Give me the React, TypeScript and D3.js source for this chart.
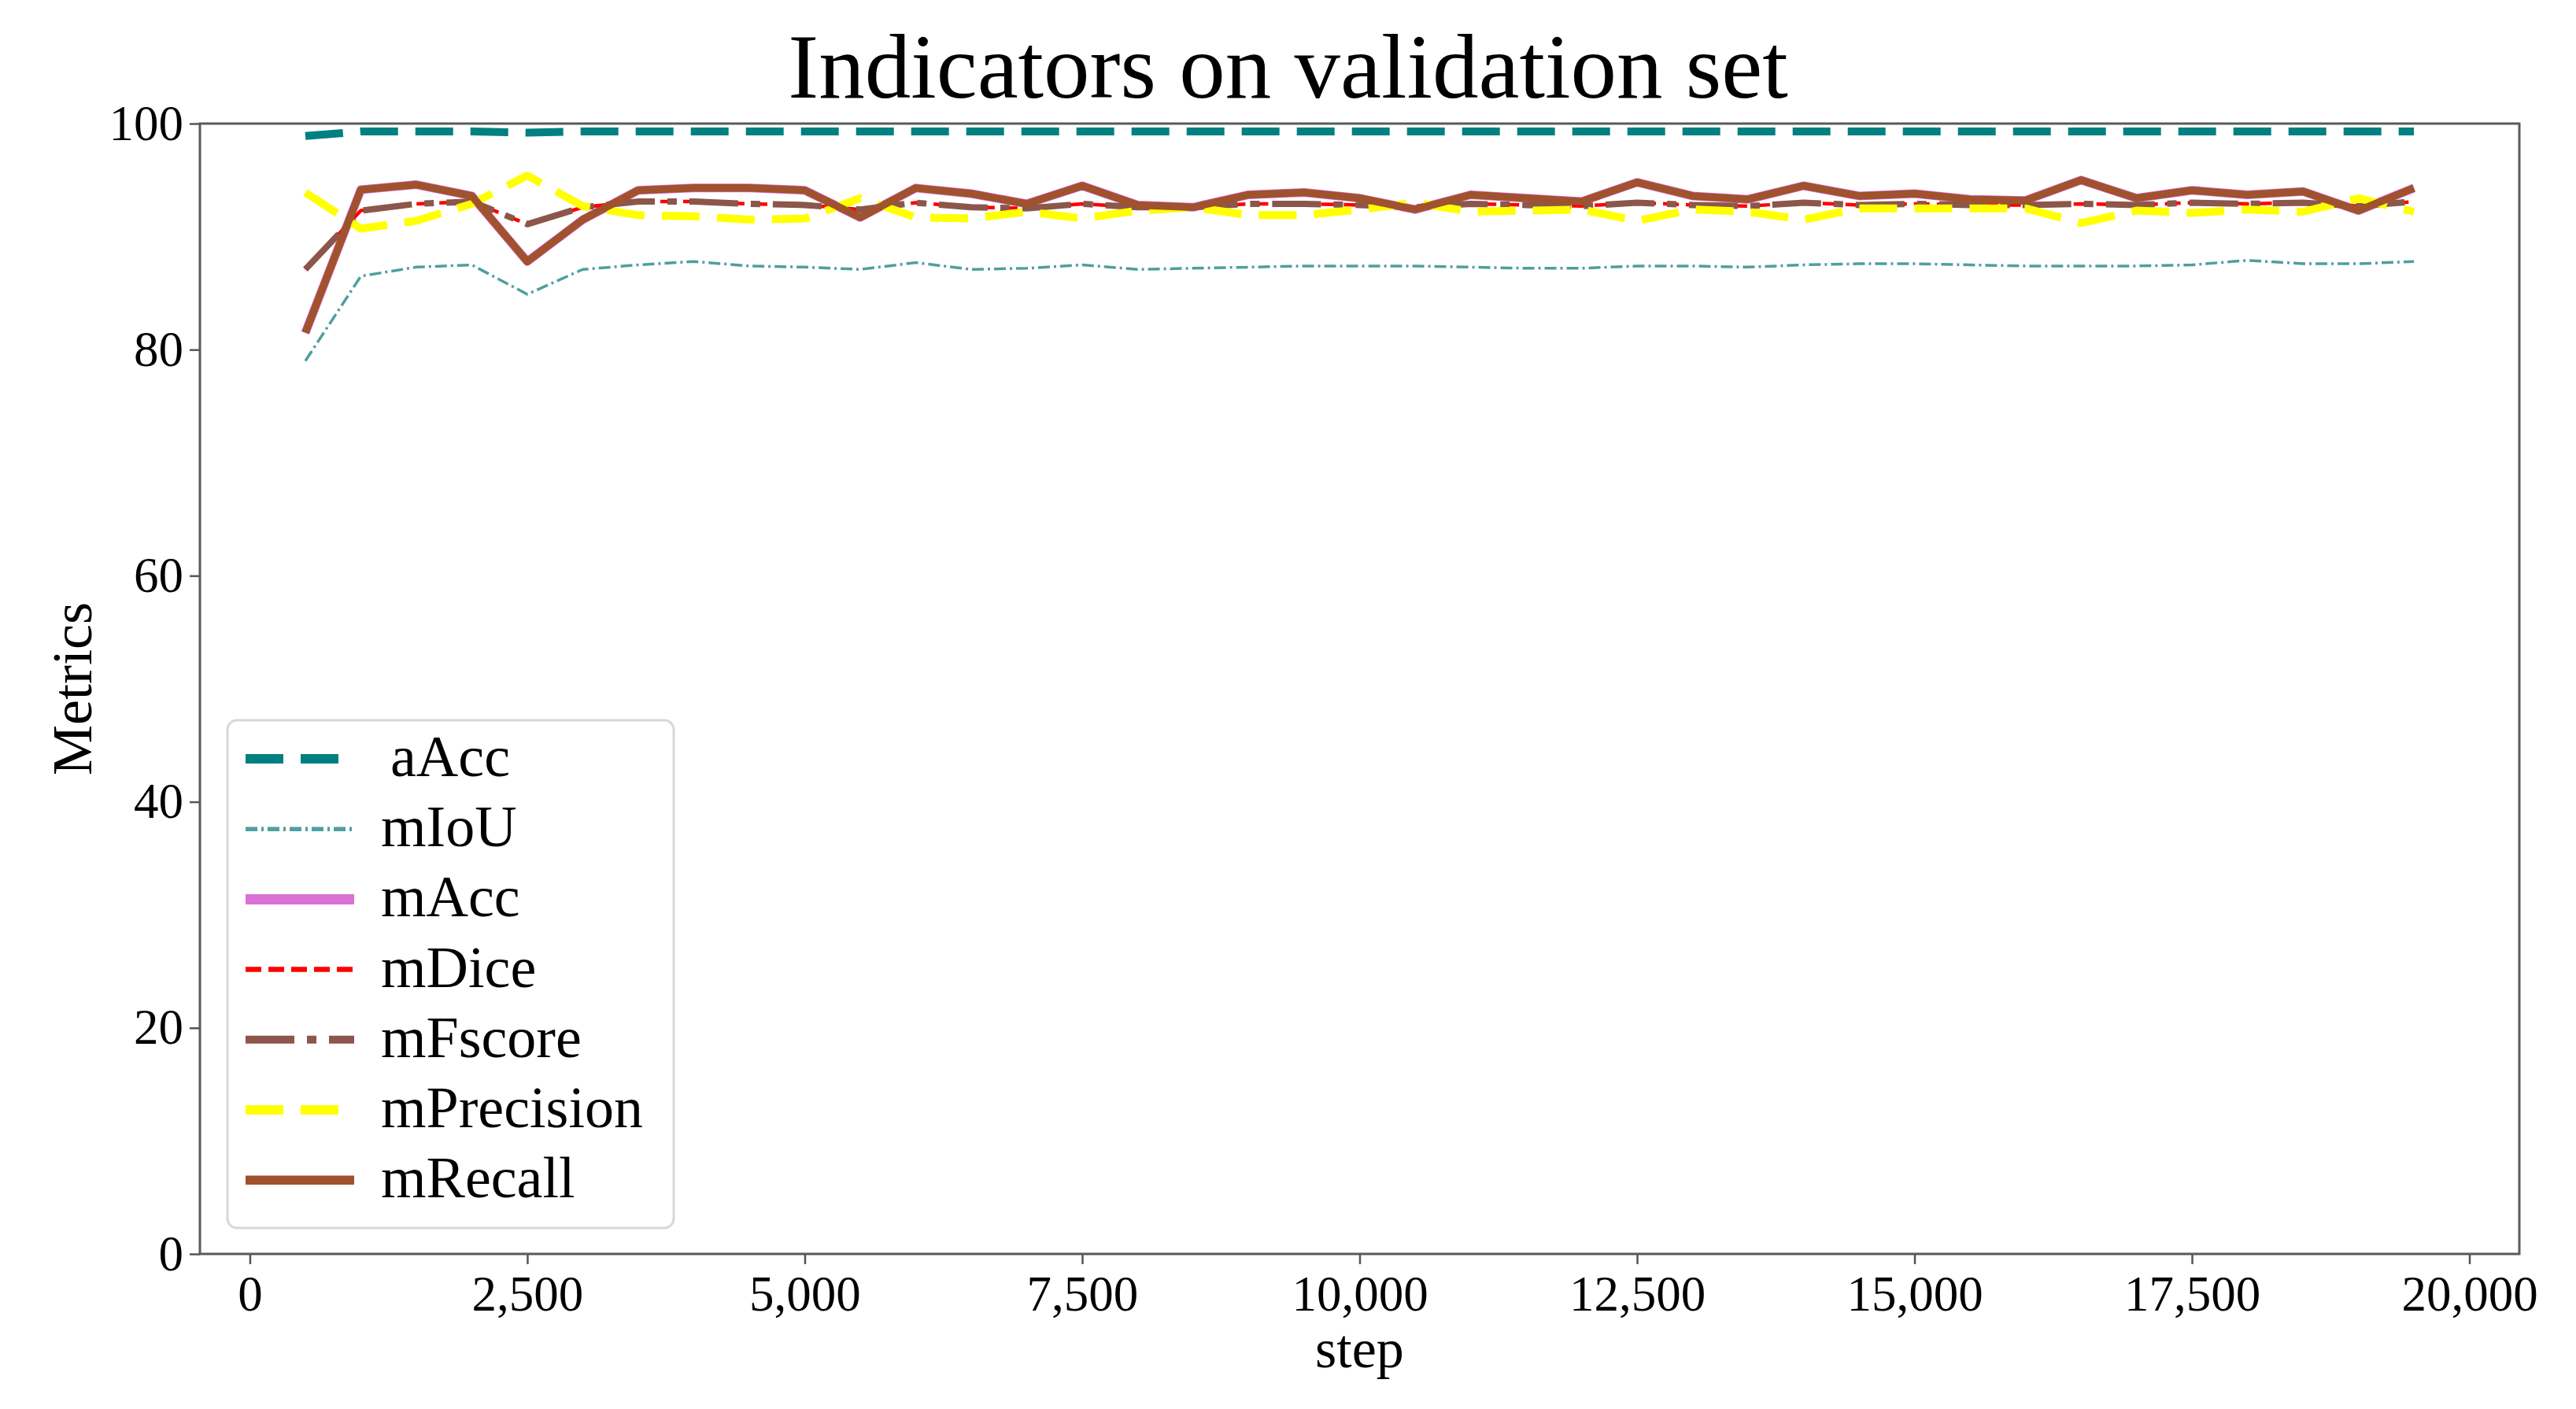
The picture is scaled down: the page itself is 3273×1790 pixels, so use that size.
import React, { useEffect, useRef } from 'react';
import * as d3 from 'd3';

// steps 500 .. 19500
const steps = [
  500, 1000, 1500, 2000, 2500, 3000, 3500, 4000, 4500, 5000,
  5500, 6000, 6500, 7000, 7500, 8000, 8500, 9000, 9500, 10000,
  10500, 11000, 11500, 12000, 12500, 13000, 13500, 14000, 14500, 15000,
  15500, 16000, 16500, 17000, 17500, 18000, 18500, 19000, 19500,
];

const aAcc = [
  98.9, 99.3, 99.3, 99.3, 99.2, 99.3, 99.3, 99.3, 99.3, 99.3,
  99.3, 99.3, 99.3, 99.3, 99.3, 99.3, 99.3, 99.3, 99.3, 99.3,
  99.3, 99.3, 99.3, 99.3, 99.3, 99.3, 99.3, 99.3, 99.3, 99.3,
  99.3, 99.3, 99.3, 99.3, 99.3, 99.3, 99.3, 99.3, 99.3,
];

const mIoU = [
  79.0, 86.5, 87.3, 87.5, 84.9, 87.1, 87.5, 87.8, 87.4, 87.3,
  87.1, 87.7, 87.1, 87.2, 87.5, 87.1, 87.2, 87.3, 87.4, 87.4,
  87.4, 87.3, 87.2, 87.2, 87.4, 87.4, 87.3, 87.5, 87.6, 87.6,
  87.5, 87.4, 87.4, 87.4, 87.5, 87.9, 87.6, 87.6, 87.8,
];

const mAcc = [
  81.5, 94.15, 94.6, 93.6, 87.8, 91.5, 94.1, 94.3, 94.3, 94.1,
  91.7, 94.3, 93.8, 92.9, 94.5, 92.8, 92.6, 93.7, 93.9, 93.4,
  92.4, 93.7, 93.4, 93.1, 94.8, 93.6, 93.3, 94.5, 93.6, 93.8,
  93.3, 93.2, 95.0, 93.4, 94.1, 93.7, 94.0, 92.3, 94.3,
];

const mDice = [
  87.1, 92.3, 92.9, 93.1, 91.1, 92.6, 93.1, 93.1, 92.9, 92.8,
  92.4, 93.0, 92.6, 92.5, 92.9, 92.6, 92.6, 92.9, 92.9, 92.8,
  92.6, 92.9, 92.8, 92.7, 93.0, 92.8, 92.7, 93.0, 92.8, 92.9,
  92.8, 92.8, 92.9, 92.8, 93.0, 92.9, 93.0, 92.7, 93.1,
];

const mFscore = [
  87.1, 92.3, 92.9, 93.1, 91.1, 92.6, 93.1, 93.1, 92.9, 92.8,
  92.4, 93.0, 92.6, 92.5, 92.9, 92.6, 92.6, 92.9, 92.9, 92.8,
  92.6, 92.9, 92.8, 92.7, 93.0, 92.8, 92.7, 93.0, 92.8, 92.9,
  92.8, 92.8, 92.9, 92.8, 93.0, 92.9, 93.0, 92.7, 93.1,
];

const mPrecision = [
  93.9, 90.7, 91.4, 92.9, 95.4, 92.7, 91.9, 91.8, 91.5, 91.6,
  93.4, 91.7, 91.6, 92.2, 91.6, 92.3, 92.6, 91.9, 91.9, 92.4,
  93.0, 92.2, 92.3, 92.4, 91.4, 92.4, 92.2, 91.5, 92.5, 92.5,
  92.5, 92.5, 91.2, 92.3, 92.1, 92.4, 92.2, 93.4, 92.2,
];

const mRecall = [
  81.5, 94.15, 94.6, 93.6, 87.8, 91.5, 94.1, 94.3, 94.3, 94.1,
  91.7, 94.3, 93.8, 92.9, 94.5, 92.8, 92.6, 93.7, 93.9, 93.4,
  92.4, 93.7, 93.4, 93.1, 94.8, 93.6, 93.3, 94.5, 93.6, 93.8,
  93.3, 93.2, 95.0, 93.4, 94.1, 93.7, 94.0, 92.3, 94.3,
];

const xTicks = [0, 2500, 5000, 7500, 10000, 12500, 15000, 17500, 20000];
const yTicks = [0, 20, 40, 60, 80, 100];

interface Series {
  name: string;
  values: number[];
  color: string;
  width: number;
  dash: string | null;
}

const series: Series[] = [
  { name: 'aAcc', values: aAcc, color: '#008080', width: 10, dash: '48,22' },
  { name: 'mIoU', values: mIoU, color: '#4f9f9f', width: 3.5, dash: '15,5,3,5' },
  { name: 'mAcc', values: mAcc, color: '#da70d6', width: 11, dash: null },
  { name: 'mDice', values: mDice, color: '#ff0000', width: 4.5, dash: '20,9' },
  { name: 'mFscore', values: mFscore, color: '#8c564b', width: 8, dash: '62,16,12,16' },
  { name: 'mPrecision', values: mPrecision, color: '#ffff00', width: 10, dash: '48,22' },
  { name: 'mRecall', values: mRecall, color: '#a0522d', width: 9.5, dash: null },
];

const FONT = '"Liberation Serif", "Times New Roman", serif';

const App: React.FC = () => {
  const svgRef = useRef<SVGSVGElement>(null);

  useEffect(() => {
    document.body.style.margin = '0';
    if (!svgRef.current) return;

    const width = 3273;
    const height = 1790;
    const margin = { top: 157, right: 72, bottom: 197, left: 254 };

    const svg = d3.select(svgRef.current);
    svg.selectAll('*').remove();
    svg.attr('width', width).attr('height', height);

    svg.append('rect').attr('width', width).attr('height', height).attr('fill', '#fff');

    // matplotlib-like 5% x margins around 500..19500
    const x = d3.scaleLinear().domain([-450, 20450]).range([margin.left, width - margin.right]);
    const y = d3.scaleLinear().domain([0, 100]).range([height - margin.bottom, margin.top]);

    const line = d3
      .line<number>()
      .x((_, i) => x(steps[i]))
      .y(d => y(d));

    const plot = svg.append('g');
    series.forEach(s => {
      plot
        .append('path')
        .datum(s.values)
        .attr('d', line)
        .attr('fill', 'none')
        .attr('stroke', s.color)
        .attr('stroke-width', s.width)
        .attr('stroke-linejoin', 'round')
        .attr('stroke-dasharray', s.dash ?? null);
    });

    // Axes
    const xAxis = svg
      .append('g')
      .attr('transform', `translate(0,${height - margin.bottom})`)
      .call(
        d3
          .axisBottom(x)
          .tickValues(xTicks)
          .tickSize(13)
          .tickSizeOuter(0)
          .tickPadding(14)
          .tickFormat(d3.format(',') as any)
      );
    const yAxis = svg
      .append('g')
      .attr('transform', `translate(${margin.left},0)`)
      .call(d3.axisLeft(y).tickValues(yTicks).tickSize(13).tickSizeOuter(0).tickPadding(8));

    [xAxis, yAxis].forEach(a => {
      a.select('.domain').remove();
      a.selectAll('line').attr('stroke', '#555').attr('stroke-width', 2.5);
      a.selectAll('text').attr('font-family', FONT).attr('font-size', 63).attr('fill', '#000');
    });

    // Frame
    svg
      .append('rect')
      .attr('x', margin.left)
      .attr('y', margin.top)
      .attr('width', width - margin.left - margin.right)
      .attr('height', height - margin.top - margin.bottom)
      .attr('fill', 'none')
      .attr('stroke', '#5a5a5a')
      .attr('stroke-width', 3);

    // Title and axis labels
    svg
      .append('text')
      .attr('x', width / 2)
      .attr('y', 124)
      .attr('text-anchor', 'middle')
      .attr('font-family', FONT)
      .attr('font-size', 117)
      .text('Indicators on validation set');

    svg
      .append('text')
      .attr('x', (margin.left + width - margin.right) / 2)
      .attr('y', 1737)
      .attr('text-anchor', 'middle')
      .attr('font-family', FONT)
      .attr('font-size', 70)
      .text('step');

    svg
      .append('text')
      .attr('transform', `translate(116,${(margin.top + height - margin.bottom) / 2}) rotate(-90)`)
      .attr('text-anchor', 'middle')
      .attr('font-family', FONT)
      .attr('font-size', 72)
      .text('Metrics');

    // Legend
    const legend = svg.append('g');
    legend
      .append('rect')
      .attr('x', 289)
      .attr('y', 915)
      .attr('width', 567)
      .attr('height', 645)
      .attr('rx', 12)
      .attr('fill', '#fff')
      .attr('fill-opacity', 0.85)
      .attr('stroke', '#d8d8d8')
      .attr('stroke-width', 3);

    series.forEach((s, i) => {
      const ly = 964 + i * 89.2;
      legend
        .append('line')
        .attr('x1', 312)
        .attr('x2', 450)
        .attr('y1', ly)
        .attr('y2', ly)
        .attr('stroke', s.color)
        .attr('stroke-width', s.width + 2)
        .attr('stroke-dasharray', s.dash ?? null);
      legend
        .append('text')
        .attr('x', i === 0 ? 496 : 484)
        .attr('y', ly + 22)
        .attr('font-family', FONT)
        .attr('font-size', 74)
        .attr('fill', '#000')
        .text(s.name);
    });
  }, []);

  return <svg ref={svgRef} style={{ display: 'block' }}></svg>;
};

export default App;
